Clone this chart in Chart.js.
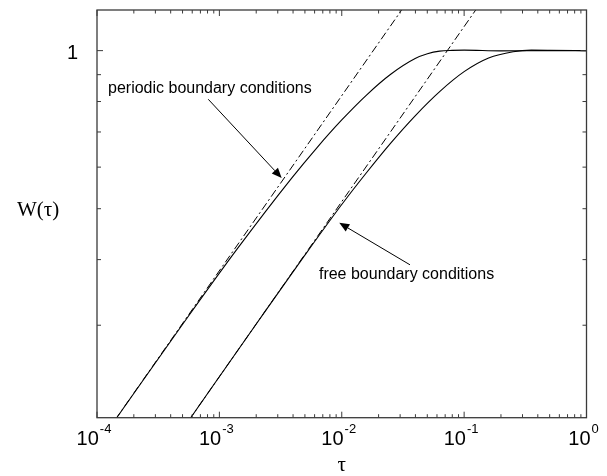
<!DOCTYPE html>
<html>
<head>
<meta charset="utf-8">
<script src="https://cdn.jsdelivr.net/npm/chart.js@4.4.1/dist/chart.umd.min.js"></script>
<style>
  html, body { margin: 0; padding: 0; background: #fff; }
  #wrap { width: 607px; height: 476px; position: relative; }
</style>
</head>
<body>
<div id="wrap"><canvas id="c"></canvas></div>
<script>
// ---- data ----
const periodicTau = [1.449e-4, 5.012e-4, 1.384e-3, 3.899e-3, 6.310e-3, 0.01, 0.01585, 0.02512, 0.03981, 0.05012, 0.0631, 0.07943, 0.1, 0.1995, 0.398, 1.0];
const periodicW   = [0.200, 0.3013, 0.4178, 0.5719, 0.6546, 0.7379, 0.8222, 0.9016, 0.9660, 0.9863, 0.9977, 1.0012, 1.002, 0.999, 1.000, 1.000];

const freeTau = [5.83e-4, 1.995e-3, 5.012e-3, 0.01, 0.01585, 0.02512, 0.03981, 0.0631, 0.1, 0.1585, 0.2512, 0.3548, 0.5012, 1.0];
const freeW   = [0.200, 0.3013, 0.4083, 0.5093, 0.5848, 0.6668, 0.7516, 0.8356, 0.9120, 0.9683, 0.9954, 1.0023, 1.0018, 1.000];

// asymptotic power laws (dash-dot), endpoints
const periodicAsymTau = [1e-4, 0.05];
const periodicAsymW   = [0.1768, 1.4036];
const freeAsymTau = [4e-4, 0.2];
const freeAsymW   = [0.1764, 1.400];

// axis
const xMin = 1e-4, xMax = 1;
const yMin = 0.2, yMax = 1.195;
const xMajorTicks = [1e-4, 1e-3, 1e-2, 1e-1, 1e0];
const xMajorExp   = ["-4", "-3", "-2", "-1", "0"];
const yMajorTicks = [1];
const yMajorLabels = ["1"];
const yMinorTicks = [0.3, 0.4, 0.5, 0.6, 0.7, 0.8, 0.9];

// annotations (data units)
const annotations = [
  { text: "periodic boundary conditions", tx: 1.23e-4, ty: 0.831, ax0: 8.11e-4, ay0: 0.808, ax1: 3.23e-3, ay1: 0.572 },
  { text: "free boundary conditions",     tx: 6.51e-3, ty: 0.368, ax0: 0.0361,  ay0: 0.391, ax1: 9.54e-3, ay1: 0.470 }
];

function pts(xs, ys) { return xs.map((x, i) => ({ x: x, y: ys[i] })); }

const SANS = '"Liberation Sans", Arial, sans-serif';
const SERIF = '"Liberation Serif", "Times New Roman", serif';

const framePlugin = {
  id: 'frame',
  afterDraw(chart) {
    const ctx = chart.ctx;
    const xs = chart.scales.x, ys = chart.scales.y;
    const a = chart.chartArea;
    ctx.save();
    // frame
    ctx.strokeStyle = '#3a3a3a';
    ctx.lineWidth = 1.3;
    ctx.strokeRect(a.left, a.top, a.right - a.left, a.bottom - a.top);

    // x ticks
    ctx.lineWidth = 1;
    for (let k = -4; k <= 0; k++) {
      for (let m = 1; m <= 9; m++) {
        const v = m * Math.pow(10, k);
        if (v > xMax * 1.0001) continue;
        const px = xs.getPixelForValue(v);
        const len = (m === 1) ? 6 : 3.5;
        ctx.beginPath();
        ctx.moveTo(px, a.bottom); ctx.lineTo(px, a.bottom - len);
        ctx.moveTo(px, a.top); ctx.lineTo(px, a.top + len);
        ctx.stroke();
      }
    }
    // y ticks
    const yt = yMajorTicks.map(v => [v, 6]).concat(yMinorTicks.map(v => [v, 4]));
    yt.forEach(([v, len]) => {
      const py = ys.getPixelForValue(v);
      ctx.beginPath();
      ctx.moveTo(a.left, py); ctx.lineTo(a.left + len, py);
      ctx.moveTo(a.right, py); ctx.lineTo(a.right - len, py);
      ctx.stroke();
    });

    // y labels
    ctx.fillStyle = '#000';
    ctx.font = '20px ' + SANS;
    ctx.textAlign = 'right';
    ctx.textBaseline = 'alphabetic';
    yMajorTicks.forEach((v, i) => {
      const py = ys.getPixelForValue(v);
      ctx.fillText(yMajorLabels[i], a.left - 19, py + 8.5);
    });

    // x labels: 10^k
    ctx.textAlign = 'left';
    xMajorTicks.forEach((v, i) => {
      const px = xs.getPixelForValue(v);
      ctx.font = '20px ' + SANS;
      const wBase = ctx.measureText('10').width;
      ctx.font = '13px ' + SANS;
      const wExp = ctx.measureText(xMajorExp[i]).width;
      const left = px - 3 - (wBase + 1 + wExp) / 2;
      ctx.font = '20px ' + SANS;
      ctx.fillText('10', left, 445);
      ctx.font = '13px ' + SANS;
      ctx.fillText(xMajorExp[i], left + wBase + 1, 433);
    });

    // axis titles
    ctx.font = '21px ' + SERIF;
    ctx.textAlign = 'center';
    ctx.fillText('τ', (a.left + a.right) / 2, 471);
    ctx.textAlign = 'left';
    ctx.fillText('W(τ)', 17, 216);

    // annotations
    ctx.font = '16px ' + SANS;
    ctx.strokeStyle = '#000';
    ctx.lineWidth = 1;
    annotations.forEach(an => {
      ctx.textAlign = 'left';
      ctx.fillText(an.text, xs.getPixelForValue(an.tx), ys.getPixelForValue(an.ty));
      const x0 = xs.getPixelForValue(an.ax0), y0 = ys.getPixelForValue(an.ay0);
      const x1 = xs.getPixelForValue(an.ax1), y1 = ys.getPixelForValue(an.ay1);
      const ang = Math.atan2(y1 - y0, x1 - x0);
      const hl = 10, hw = 4.2;
      const bx = x1 - hl * Math.cos(ang), by = y1 - hl * Math.sin(ang);
      ctx.beginPath();
      ctx.moveTo(x0, y0); ctx.lineTo(bx, by);
      ctx.stroke();
      ctx.beginPath();
      ctx.moveTo(x1, y1);
      ctx.lineTo(bx + hw * Math.sin(ang), by - hw * Math.cos(ang));
      ctx.lineTo(bx - hw * Math.sin(ang), by + hw * Math.cos(ang));
      ctx.closePath();
      ctx.fill();
    });
    ctx.restore();
  }
};

const solid = { borderColor: '#000', borderWidth: 1.1, pointRadius: 0, fill: false, cubicInterpolationMode: 'monotone' };
const dashed = { borderColor: '#000', borderWidth: 1, pointRadius: 0, fill: false, borderDash: [8, 3, 2, 3] };

new Chart(document.getElementById('c'), {
  type: 'line',
  data: {
    datasets: [
      Object.assign({ label: 'periodic', data: pts(periodicTau, periodicW) }, solid),
      Object.assign({ label: 'free', data: pts(freeTau, freeW) }, solid),
      Object.assign({ label: 'periodic asymptote', data: pts(periodicAsymTau, periodicAsymW) }, dashed),
      Object.assign({ label: 'free asymptote', data: pts(freeAsymTau, freeAsymW) }, dashed)
    ]
  },
  options: {
    responsive: true,
    maintainAspectRatio: false,
    animation: false,
    devicePixelRatio: 1,
    layout: { padding: { left: 97, right: 20.5, top: 10, bottom: 58.3 } },
    scales: {
      x: { type: 'logarithmic', min: xMin, max: xMax, display: false },
      y: { type: 'logarithmic', min: yMin, max: yMax, display: false }
    },
    plugins: { legend: { display: false }, tooltip: { enabled: false } }
  },
  plugins: [framePlugin]
});
</script>
</body>
</html>
